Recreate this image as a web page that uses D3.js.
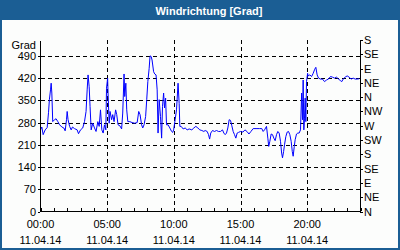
<!DOCTYPE html>
<html>
<head>
<meta charset="utf-8">
<script src="https://cdn.jsdelivr.net/npm/d3@7"></script>
<style>
  html, body { margin: 0; padding: 0; background: #fcfdfc; }
  svg { display: block; font-family: "Liberation Sans", Arial, sans-serif; }
</style>
</head>
<body>
<svg id="chart" width="400" height="250"></svg>
<script>
// minutes since midnight, 11.04.14
const minutes = [0, 6, 12, 21, 30, 36, 40, 45, 48, 51, 55, 63, 70, 78, 86, 96, 105, 111, 117, 120,
    124, 131, 138, 144, 153, 165, 171, 180, 190, 198, 205, 210, 214, 219, 223, 228, 235, 243, 250, 258,
    264, 270, 276, 282, 288, 294, 297, 302, 304, 309, 313, 320, 325, 331, 338, 343, 349, 357, 365, 370,
    376, 379, 384, 388, 393, 402, 412, 424, 435, 442, 448, 455, 460, 466, 473, 478, 483, 489, 493, 498,
    502, 509, 514, 520, 525, 529, 534, 540, 545, 549, 554, 558, 563, 567, 574, 582, 590, 595, 599, 606,
    612, 619, 624, 627, 633, 642, 651, 660, 669, 681, 690, 699, 708, 717, 726, 735, 741, 750, 756, 761,
    766, 774, 783, 792, 801, 810, 819, 825, 831, 837, 843, 849, 855, 861, 867, 873, 879, 885, 891, 900,
    911, 920, 929, 938, 947, 957, 970, 986, 996, 1002, 1008, 1017, 1023, 1027, 1032, 1038, 1044, 1050, 1056, 1062,
    1068, 1074, 1080, 1085, 1089, 1094, 1098, 1104, 1110, 1116, 1122, 1128, 1133, 1137, 1142, 1146, 1152, 1158, 1164, 1170,
    1175, 1179, 1182, 1185, 1188, 1191, 1194, 1197, 1202, 1204, 1212, 1220, 1227, 1234, 1239, 1245, 1251, 1260, 1269, 1278,
    1287, 1296, 1305, 1314, 1323, 1332, 1341, 1350, 1356, 1362, 1371, 1380, 1389, 1398, 1407, 1416, 1425, 1434];

// wind direction in degrees (unwrapped, > 360 means past north again)
const degrees = [257, 266, 242, 257, 264, 311, 352, 383, 404, 373, 283, 289, 292, 283, 273, 266, 263, 254, 289, 315,
    289, 268, 257, 266, 261, 257, 245, 257, 263, 283, 315, 383, 430, 393, 331, 257, 278, 263, 252, 283,
    268, 320, 257, 247, 273, 257, 388, 420, 373, 278, 315, 289, 305, 283, 320, 305, 273, 270, 260, 310,
    433, 362, 404, 320, 283, 283, 280, 278, 280, 315, 305, 273, 263, 273, 299, 352, 409, 451, 490, 488,
    477, 440, 433, 430, 383, 247, 352, 299, 231, 331, 373, 326, 357, 273, 273, 263, 252, 249, 257, 289,
    320, 404, 340, 268, 268, 260, 263, 257, 260, 257, 263, 268, 263, 257, 255, 252, 255, 252, 242, 228,
    247, 255, 252, 255, 252, 252, 257, 247, 242, 247, 263, 289, 287, 270, 252, 242, 231, 247, 249, 252,
    250, 257, 252, 244, 252, 261, 261, 261, 261, 252, 257, 268, 231, 205, 221, 244, 242, 231, 223, 242,
    252, 247, 221, 184, 169, 189, 210, 236, 250, 252, 242, 221, 189, 174, 205, 226, 244, 247, 247, 257,
    373, 289, 414, 257, 294, 357, 283, 409, 435, 427, 430, 425, 435, 448, 454, 430, 420, 417, 417, 409,
    414, 417, 425, 423, 420, 423, 417, 412, 409, 417, 423, 427, 423, 417, 420, 417, 417, 418];

const leftTicks = [0, 70, 140, 210, 280, 350, 420, 490];
const directionLabels = ['N', 'NE', 'E', 'SE', 'S', 'SW', 'W', 'NW', 'N', 'NE', 'E', 'SE', 'S'];
const timeLabels = ['00:00', '05:00', '10:00', '15:00', '20:00'];
const dateLabel = '11.04.14';
const title = 'Windrichtung [Grad]';

const svg = d3.select('#chart');
const W = 400, H = 250;
const blue = '#1b5e94';

// frame + title bar
svg.append('rect').attr('width', W).attr('height', H).attr('fill', blue);
svg.append('rect').attr('x', 2).attr('y', 20).attr('width', W - 4).attr('height', H - 22).attr('fill', '#fcfdfc');
svg.append('text')
    .attr('x', 209).attr('y', 14.5)
    .attr('text-anchor', 'middle')
    .attr('fill', '#fff')
    .style('font-size', '11px')
    .style('font-weight', 'bold')
    .text(title);

const x = d3.scaleLinear().domain([0, 1440]).range([40.5, 360.5]);
const y = d3.scaleLinear().domain([0, 540]).range([211.5, 40]);

// grid
const grid = svg.append('g')
    .attr('stroke', '#000')
    .attr('stroke-dasharray', '4,3')
    .attr('shape-rendering', 'crispEdges');
grid.selectAll('.hg')
    .data(leftTicks.filter(d => d > 0))
    .enter().append('line')
    .attr('x1', x(0)).attr('x2', x(1440))
    .attr('y1', d => Math.round(y(d)) + 0.5).attr('y2', d => Math.round(y(d)) + 0.5);
grid.selectAll('.vg')
    .data(timeLabels.slice(1).map((t, i) => (i + 1) * 300))
    .enter().append('line')
    .attr('x1', d => Math.round(x(d)) + 0.5).attr('x2', d => Math.round(x(d)) + 0.5)
    .attr('y1', y(540)).attr('y2', y(0));

// data line
const line = d3.line()
    .x((d, i) => x(minutes[i]))
    .y(d => y(d));
svg.append('path')
    .datum(degrees)
    .attr('fill', 'none')
    .attr('stroke', '#0000ff')
    .attr('stroke-width', 1)
    .attr('d', line);

// axes
const leftAxis = svg.append('g')
    .attr('transform', 'translate(40,0)')
    .call(d3.axisLeft(y).tickValues(leftTicks).tickSizeInner(2).tickSizeOuter(0).tickPadding(2));

const rightAxis = svg.append('g')
    .attr('transform', 'translate(360,0)')
    .call(d3.axisRight(y)
        .tickValues(directionLabels.map((d, i) => i * 45))
        .tickFormat((d, i) => directionLabels[i])
        .tickSizeInner(3).tickSizeOuter(0).tickPadding(1));

const bottomAxis = svg.append('g')
    .attr('transform', 'translate(0,211)')
    .call(d3.axisBottom(x)
        .tickValues(d3.range(0, 25).map(h => h * 60))
        .tickFormat('')
        .tickSizeInner(-3).tickSizeOuter(0));

[leftAxis, rightAxis, bottomAxis].forEach(g => {
    g.attr('shape-rendering', 'crispEdges');
    g.selectAll('text').style('font-size', '11px').style('font-family', '"Liberation Sans", Arial, sans-serif').attr('fill', '#000');
    g.selectAll('line, path').attr('stroke', '#000');
});

svg.append('text')
    .attr('x', 36).attr('y', 49)
    .attr('text-anchor', 'end')
    .style('font-size', '11px')
    .text('Grad');

// time + date labels
const labels = svg.append('g').style('font-size', '11px').attr('text-anchor', 'middle');
timeLabels.forEach((t, i) => {
    labels.append('text').attr('x', x(i * 300)).attr('y', 228).text(t);
    labels.append('text').attr('x', x(i * 300)).attr('y', 244).text(dateLabel);
});
</script>
</body>
</html>
